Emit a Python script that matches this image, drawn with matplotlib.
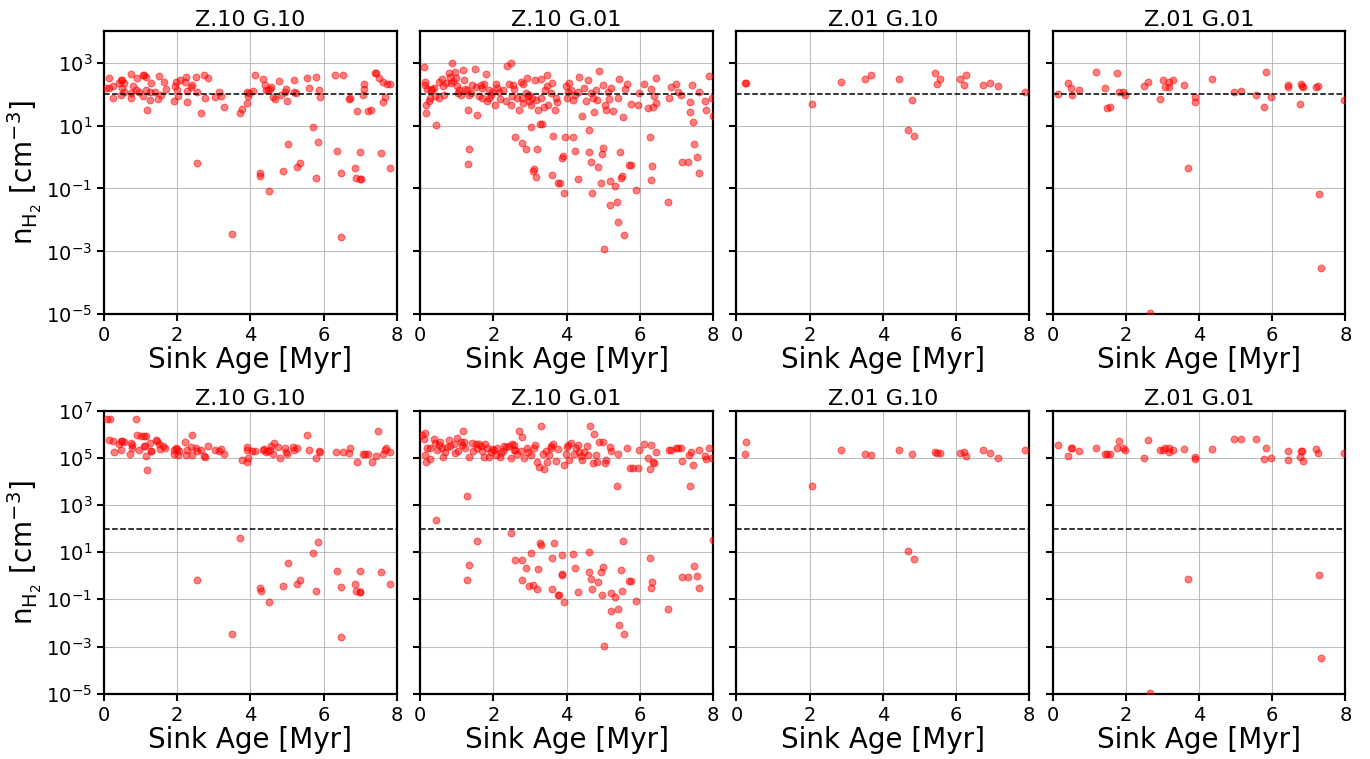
import matplotlib
matplotlib.use('Agg')
import matplotlib.pyplot as plt
from matplotlib.ticker import FixedLocator, NullLocator, LogFormatterMathtext

titles = ["Z.10 G.10", "Z.10 G.01", "Z.01 G.10", "Z.01 G.01"]

# ---- Z.10 G.10, top row ----
age_a_top = [0.05, 0.14, 0.14, 0.23, 0.25, 0.41, 0.46, 0.5, 0.55, 0.5, 0.46, 0.53, 0.73, 0.78,
             0.73, 0.73, 0.9, 0.87, 0.96, 1.05, 1.1, 1.14, 1.07, 1.14, 1.17, 1.28, 1.26, 1.25,
             1.4, 1.5, 1.46, 1.55, 1.64, 1.69, 1.92, 1.93, 1.96, 2.0, 2.03, 2.08, 2.24, 2.22,
             2.26, 2.26, 2.39, 2.37, 2.51, 2.54, 2.65, 2.54, 2.74, 2.83, 2.75, 3.03, 3.15, 3.19,
             3.27, 3.49, 3.7, 3.76, 3.9, 3.9, 3.92, 3.97, 4.06, 4.12, 4.33, 4.27, 4.27, 4.4,
             4.43, 4.47, 4.52, 4.56, 4.5, 4.61, 4.67, 4.79, 4.84, 4.9, 4.93, 4.97, 5.0, 5.02,
             5.18, 5.2, 5.25, 5.26, 5.35, 5.55, 5.6, 5.72, 5.78, 5.8, 5.84, 5.86, 5.9, 6.32,
             6.37, 6.46, 6.48, 6.52, 6.69, 6.73, 6.92, 6.86, 6.89, 6.98, 6.98, 7.03, 7.07, 7.1,
             7.1, 7.21, 7.3, 7.41, 7.44, 7.5, 7.57, 7.62, 7.63, 7.68, 7.74, 7.8, 7.8]
n_a_top = [155, 155, 320, 180, 75, 220, 280, 270, 220, 155, 90, 120, 440, 180,
           108, 75, 320, 137, 120, 390, 390, 360, 88, 137, 30, 220, 112, 63,
           112, 380, 68, 95, 250, 144, 62, 180, 233, 137, 85, 283, 360, 233,
           127, 55, 197, 166, 360, 120, 25, 0.66, 390, 320, 75, 80, 120, 88,
           40, 0.0035, 25, 34, 120, 52, 85, 108, 127, 390, 305, 0.32, 0.24, 197,
           137, 137, 144, 166, 0.08, 78, 71, 263, 95, 0.36, 120, 144, 62, 2.5,
           112, 270, 108, 0.48, 0.66, 335, 155, 8.9, 345, 0.22, 3.0, 130, 78, 400,
           1.5, 0.0028, 0.32, 390, 69, 75, 28, 0.46, 0.22, 1.4, 0.2, 0.2, 95, 144,
           210, 28, 30, 480, 460, 320, 1.3, 233, 55, 78, 210, 210, 0.46]

# ---- Z.10 G.10, bottom row ----
age_a_bot = [0.07, 0.16, 0.87, 0.14, 0.23, 0.26, 0.41, 0.46, 0.5, 0.55, 0.46, 0.73, 0.75, 0.76,
             0.71, 0.89, 1.0, 1.1, 1.14, 0.96, 1.08, 1.11, 1.14, 1.17, 1.26, 1.27, 1.29, 1.41,
             1.44, 1.5, 1.53, 1.62, 1.67, 1.9, 1.92, 1.96, 2.0, 2.05, 2.03, 2.22, 2.24, 2.26,
             2.37, 2.39, 2.4, 2.51, 2.55, 2.65, 2.74, 2.76, 2.85, 3.03, 3.15, 3.19, 3.27, 2.54,
             3.49, 3.7, 3.76, 3.9, 3.9, 3.91, 3.92, 4.03, 4.12, 4.27, 4.28, 4.33, 4.38, 4.42,
             4.47, 4.52, 4.56, 4.61, 4.65, 4.5, 4.76, 4.82, 4.9, 4.93, 4.97, 5.0, 5.02, 5.16,
             5.18, 5.27, 5.26, 5.35, 5.55, 5.6, 5.72, 5.78, 5.8, 5.84, 5.86, 5.91, 6.34, 6.37,
             6.46, 6.48, 6.52, 6.68, 6.73, 6.86, 6.89, 6.98, 7.0, 6.92, 6.98, 7.07, 7.12, 7.21,
             7.32, 7.42, 7.48, 7.57, 7.62, 7.67, 7.71, 7.8, 7.8]
n_a_bot = [4.4e6, 4.4e6, 4.4e6, 5.6e5, 5.2e5, 1.7e5, 4e5, 5e5, 5.2e5, 4.7e5, 2.1e5, 4.3e5, 3.4e5, 2.6e5,
           1.5e5, 9e5, 8.5e5, 8.5e5, 8.5e5, 2.1e5, 3.1e5, 3.2e5, 1.2e5, 3.1e4, 4.3e5, 1.9e5, 1.9e5, 5.5e5,
           5.2e5, 3.7e5, 2.3e5, 3.2e5, 2.5e5, 1.4e5, 2.1e5, 2.6e5, 2.3e5, 1.9e5, 1.3e5, 4.8e5, 1.3e5, 2.1e5,
           2.9e5, 9.6e5, 1.3e5, 2.6e5, 1.9e5, 2.1e5, 1.2e5, 1.03e5, 3.2e5, 2.2e5, 1.9e5, 2.3e5, 1.4e5, 0.66,
           0.0033, 38, 8e4, 2.9e5, 2.1e5, 6.3e4, 1e5, 1.9e5, 1.9e5, 0.31, 0.23, 2.1e5, 2.3e5, 1.7e5,
           1.9e5, 2.1e5, 3.2e5, 1.4e5, 4.2e5, 0.08, 2.9e5, 1e5, 0.36, 2.5e5, 1.8e5, 1.5e5, 3.5, 2.9e5,
           2.1e5, 2.5e5, 0.45, 0.66, 9e5, 2.1e5, 9.6, 1e5, 0.22, 28, 1.9e5, 1.7e5, 1.8e5, 1.6,
           0.0025, 0.32, 1.8e5, 1.6e5, 2.6e5, 0.45, 0.22, 0.2, 0.2, 6.8e4, 1.6, 1.4e5, 1.4e5, 1.5e5,
           6.8e4, 1.2e5, 1.3e6, 1.5, 1.5e5, 2.1e5, 2.6e5, 1.8e5, 0.45]

# ---- Z.10 G.01, top row ----
age_b_top = [0.09, 0.12, 0.14, 0.18, 0.16, 0.16, 0.27, 0.23, 0.32, 0.37, 0.41, 0.43,
             0.5, 0.52, 0.59, 0.64, 0.69, 0.78, 0.8, 0.87, 0.85, 0.96, 0.98, 1.0, 1.03, 1.05,
             1.16, 1.19, 1.23, 1.28, 1.3, 1.34, 1.3, 1.33, 1.42, 1.49, 1.53, 1.55, 1.6, 1.65,
             1.69, 1.74, 1.8, 1.83, 1.87, 1.89, 1.92, 1.97,
             2.06, 2.04, 2.1, 2.19, 2.26, 2.38, 2.47, 2.42, 2.47, 2.51, 2.53, 2.56, 2.6, 2.65,
             2.69, 2.74, 2.77, 2.79, 2.81, 2.81, 2.9, 2.92, 2.94, 2.97,
             2.97, 3.02, 3.02, 3.06, 3.08, 3.1, 3.13, 3.17, 3.2, 3.23, 3.26, 3.29, 3.31, 3.34,
             3.38, 3.45, 3.47, 3.5, 3.56, 3.61, 3.63, 3.61, 3.68, 3.7, 3.77, 3.81, 3.88, 3.9,
             3.93, 3.96, 3.98, 4.0,
             4.07, 4.11, 4.16, 4.16, 4.23, 4.3, 4.31, 4.34, 4.43, 4.48, 4.57, 4.6, 4.6, 4.66,
             4.69, 4.71, 4.75, 4.8, 4.84, 4.87, 4.89, 4.94, 4.96, 4.98, 5.0, 5.03, 5.05, 5.07,
             5.12, 5.18, 5.19, 5.2, 5.27, 5.32, 5.38, 5.39, 5.41, 5.42, 5.46, 5.48, 5.51, 5.55,
             5.57, 5.64, 5.71, 5.76, 5.76, 5.9, 5.94, 5.99,
             6.12, 6.21, 6.28, 6.31, 6.33, 6.31, 6.35, 6.4, 6.45, 6.45, 6.77, 6.81, 6.86, 7.0,
             7.04, 7.13, 7.15, 7.31, 7.36, 7.38, 7.43, 7.45, 7.47, 7.56, 7.61, 7.63, 7.77, 7.8,
             7.89, 7.98, 8.0,
             0.3, 0.62, 0.9, 1.12, 1.38, 1.7, 2.15, 2.33, 2.88, 3.15, 3.42, 3.74, 4.05, 4.22,
             4.52, 4.66, 5.15, 5.6]
n_b_top = [700, 250, 200, 145, 46, 25, 75, 59, 145, 155, 85, 10.3,
           250, 75, 300, 95, 220, 460, 360, 950, 220, 520, 335, 175, 107, 137,
           590, 280, 145, 137, 30, 1.8, 0.6, 95, 200, 615, 166, 22, 85, 200,
           75, 210, 440, 59, 75, 137, 95, 120,
           210, 46, 155, 70, 137, 785, 950, 210, 46, 85, 200, 145, 4.3, 75,
           32, 250, 2.8, 75, 210, 52, 1.8, 320, 85, 59,
           95, 8.9, 46, 75, 0.36, 0.4, 270, 0.23, 1.75, 32, 11, 75, 300, 11,
           40, 400, 175, 46, 108, 222, 4.8, 0.26, 32, 75, 0.15, 0.15, 0.95, 1.05,
           0.07, 4.4, 175, 75,
           222, 130, 4.4, 66, 1.5, 120, 0.2, 360, 20, 155, 280, 7.1, 1.4, 0.7,
           0.07, 75, 26, 137, 63, 0.48, 560, 0.15, 1.2, 200, 1.9, 0.0012, 46, 32,
           120, 0.17, 0.03, 155, 28, 0.12, 0.037, 75, 0.0086, 300, 1.4, 0.22, 0.24, 18,
           0.0034, 210, 0.55, 0.55, 50, 0.09, 46, 108,
           210, 36, 4.4, 145, 0.5, 0.19, 40, 85, 320, 52, 0.037, 75, 166, 210,
           120, 95, 0.7, 0.7, 55, 26, 200, 13, 2.5, 1.0, 112, 0.3, 59, 30,
           380, 75, 20,
           130, 180, 260, 90, 110, 160, 120, 60, 110, 65, 130, 55, 120, 90,
           60, 110, 70, 150]

# ---- Z.10 G.01, bottom row ----
age_b_bot = [0.06, 0.14, 0.09, 0.12, 0.16, 0.18, 0.27, 0.27, 0.37, 0.41, 0.43, 0.46, 0.55, 0.59,
             0.61, 0.67, 0.78, 0.82, 0.91, 1.0, 1.03, 1.14, 1.17, 1.19, 1.23, 1.28, 1.28, 1.34,
             1.34, 1.4, 1.51, 1.55, 1.55, 1.65, 1.69, 1.74, 1.78, 1.83, 1.87, 1.92, 2.01, 2.06,
             2.1, 2.19, 2.26, 2.35, 2.42, 2.47, 2.49, 2.51, 2.56, 2.6, 2.6, 2.65, 2.71, 2.74,
             2.77, 2.79, 2.79, 2.83, 2.88, 2.91, 2.97, 3.02, 3.02, 3.08, 3.1, 3.13, 3.18, 3.2,
             3.22, 3.24, 3.27, 3.31, 3.31, 3.38, 3.43, 3.47, 3.52, 3.56, 3.61, 3.61, 3.63, 3.66,
             3.7, 3.77, 3.79, 3.87, 3.88, 3.88, 3.93, 3.93, 3.98, 4.0, 4.07, 4.11, 4.16, 4.2,
             4.23, 4.3, 4.31, 4.34, 4.43, 4.48, 4.57, 4.6, 4.6, 4.64, 4.66, 4.69, 4.73, 4.75,
             4.8, 4.84, 4.86, 4.89, 4.94, 4.96, 4.98, 5.0, 5.03, 5.05, 5.07, 5.19, 5.2, 5.21,
             5.21, 5.32, 5.37, 5.39, 5.41, 5.42, 5.48, 5.51, 5.55, 5.57, 5.64, 5.71, 5.76, 5.73,
             5.8, 5.9, 5.94, 5.99, 6.12, 6.21, 6.28, 6.28, 6.31, 6.31, 6.33, 6.37, 6.4, 6.45,
             6.77, 6.81, 6.86, 7.0, 7.04, 7.13, 7.15, 7.16, 7.31, 7.34, 7.36, 7.4, 7.45, 7.47,
             7.56, 7.61, 7.61, 7.77, 7.8, 7.89, 7.98, 8.0,
             0.5, 0.72, 0.95, 1.1, 1.45, 1.6, 1.95, 2.2, 2.3, 2.55, 2.95, 3.35, 3.58, 3.75,
             4.05, 4.25, 4.4, 4.55]
n_b_bot = [9e5, 1.07e6, 6.2e5, 1.3e5, 6.4e4, 2.6e5, 8.5e4, 2.5e5, 6.5e5, 4.3e5, 235, 2.1e5, 4.7e5, 2.6e5,
           1.03e5, 1.8e5, 5.5e5, 3.2e5, 3.7e5, 7e5, 1.9e5, 3.4e5, 1.35e6, 4.7e5, 2.6e5, 2.5e3, 0.68, 1.03e5,
           2.8, 4.4e5, 3.7e5, 30, 2.5e5, 3.2e5, 1.9e5, 1.1e5, 3.7e5, 2.6e5, 1.1e5, 1.8e5, 2.1e5, 1.3e5,
           2.5e5, 1.1e5, 1.9e5, 2.9e5, 3.2e5, 1e5, 62, 4e5, 3.4e5, 4.8, 2.1e5, 1.5e5, 1.35e6, 1.9e5,
           4.8, 7.7e5, 0.63, 1e5, 2.1, 2.6e5, 0.37, 9.3, 1.3e5, 0.41, 2.6e5, 3.4e5, 0.27, 6.8e4,
           1.9, 4.2e4, 24, 21, 2.2e6, 3.3e4, 1.9e5, 6.8e4, 1.3e5, 2.6e5, 0.28, 5.8, 4e5, 24,
           7.2e4, 0.16, 0.16, 1.1, 1.15, 7.7, 0.075, 4.9e4, 1.4e5, 2.9e5, 8e4, 4.3e5, 8.5, 1.5e5,
           2.1, 3.4e5, 0.2, 1.8e5, 8e4, 1.8e5, 1.3e5, 10, 1.5, 2.2e6, 0.75, 0.28, 5.8e4, 9.7e5,
           1.3e5, 6.8e4, 0.52, 4.5e5, 1.5, 0.16, 4.5e5, 2.4, 0.0011, 5.8e4, 8e4, 2.9e5, 0.18, 1.9e5,
           0.033, 0.13, 6.3e3, 0.038, 1.5e5, 0.0085, 1.7, 0.22, 30, 0.0034, 2.5e5, 0.6, 0.6, 3.8e4,
           3.8e4, 0.087, 3.8e4, 2.1e5, 3.7e5, 9.4e4, 3.5e4, 5.6, 3.4e5, 0.3, 0.52, 6.8e4, 5.8e4, 1.7e5,
           0.038, 2.1e5, 2.1e5, 2.6e5, 2.6e5, 2.5e5, 0.86, 7.2e4, 0.86, 1.3e5, 6.3e3, 1.8e5, 4.9e4, 2.6,
           0.96, 2.1e5, 0.3, 1.2e5, 8.5e4, 2.6e5, 9.4e4, 33,
           3.5e5, 2.8e5, 1.6e5, 4.5e5, 2e5, 3.9e5, 2.4e5, 1.6e5, 3.1e5, 2.2e5, 1.7e5, 1.4e5, 3e5, 2.3e5,
           3.6e5, 2.5e5, 1.2e5, 3.3e5]

# ---- Z.01 G.10 (same sinks in both rows) ----
age_c = [0.23, 0.26, 2.07, 2.86, 3.51, 3.68, 4.45, 4.7, 4.81, 4.85,
         5.43, 5.49, 5.57, 6.11, 6.22, 6.28, 6.75, 6.93, 7.16, 7.89]
n_c_top = [222, 222, 48, 240, 305, 390, 290, 7.1, 65, 4.5,
           450, 212, 305, 305, 192, 410, 200, 222, 183, 112]
n_c_bot = [1.5e5, 4.7e5, 6.2e3, 2.1e5, 1.5e5, 1.25e5, 2.1e5, 11.5, 1.5e5, 5.0,
           1.8e5, 1.6e5, 1.6e5, 1.6e5, 1.7e5, 1.2e5, 2.1e5, 1.6e5, 1e5, 2.1e5]

# ---- Z.01 G.01 (same sinks in both rows) ----
age_d = [0.16, 0.41, 0.5, 0.53, 0.73, 1.19, 1.43, 1.48, 1.57, 1.76, 1.81, 1.93, 1.99,
         2.49, 2.62, 2.65, 2.94, 3.01, 3.06, 3.17, 3.18, 3.3, 3.6, 3.7, 3.9, 3.9,
         4.36, 4.97, 5.14, 5.57, 5.77, 5.84, 5.98, 6.43, 6.43, 6.8, 6.82, 6.75, 6.84,
         7.2, 7.26, 7.28, 7.34, 7.96]
n_d_top = [100, 222, 155, 95, 137, 510, 158, 36, 38, 460, 113, 113, 93,
           183, 240, 1.1e-5, 69, 283, 166, 166, 250, 283, 188, 0.46, 80, 56,
           305, 113, 124, 95, 38, 510, 78, 188, 163, 212, 180, 50, 166,
           166, 183, 0.068, 0.0003, 66]
n_d_bot = [3.4e5, 1.2e5, 2.6e5, 2.6e5, 2e5, 2.6e5, 1.5e5, 1.5e5, 1.5e5, 2.6e5, 5.2e5, 2.7e5, 2.2e5,
           1e5, 5.6e5, 1.1e-5, 2.2e5, 2.2e5, 2.5e5, 2.5e5, 1.8e5, 2.1e5, 2.3e5, 0.7, 1.1e5, 8.8e4,
           2.3e5, 6e5, 6e5, 6e5, 8.8e4, 2.6e5, 1e5, 1.9e5, 8e4, 2e5, 2e5, 1.1e5, 7.5e4,
           2.4e5, 1.6e5, 1.1, 3.2e-4, 1.6e5]

n_crit = 100
yticks_top = [1e-5, 1e-3, 1e-1, 1e1, 1e3]
yticks_bot = [1e-5, 1e-3, 1e-1, 1e1, 1e3, 1e5, 1e7]

top_data = [(age_a_top, n_a_top), (age_b_top, n_b_top), (age_c, n_c_top), (age_d, n_d_top)]
bot_data = [(age_a_bot, n_a_bot), (age_b_bot, n_b_bot), (age_c, n_c_bot), (age_d, n_d_bot)]

fig, axes = plt.subplots(2, 4, figsize=(13.7, 7.59), dpi=100)
fig.subplots_adjust(left=0.076, right=0.982, top=0.959, bottom=0.086, wspace=0.08, hspace=0.34)

rows = [(0, top_data, (1e-5, 1e4), yticks_top), (1, bot_data, (1e-5, 1e7), yticks_bot)]
for row, data, ylim, yticks in rows:
    for col in range(4):
        ax = axes[row, col]
        x, y = data[col]
        ax.scatter(x, y, c='r', s=24, alpha=0.5, linewidths=0.8, zorder=3)
        ax.axhline(n_crit, color='k', ls='--', lw=1.1, zorder=4)
        ax.set_yscale('log')
        ax.set_xlim(0, 8)
        ax.set_ylim(*ylim)
        ax.set_xticks([0, 2, 4, 6, 8])
        ax.yaxis.set_major_locator(FixedLocator(yticks))
        ax.yaxis.set_major_formatter(LogFormatterMathtext(base=10.0))
        ax.yaxis.set_minor_locator(NullLocator())
        ax.grid(True, color='#b0b0b0', lw=0.8, alpha=0.8)
        ax.set_axisbelow(True)
        ax.tick_params(labelsize=14, width=1.5, length=5)
        for sp in ax.spines.values():
            sp.set_linewidth(1.6)
        ax.set_title(titles[col], fontsize=16, pad=4)
        ax.set_xlabel('Sink Age [Myr]', fontsize=20, labelpad=1)
        if col == 0:
            ax.set_ylabel(r'$\mathrm{n_{H_2}}$ [cm$^{-3}$]', fontsize=20, labelpad=2)
        else:
            ax.tick_params(labelleft=False)

fig.savefig('out.png', dpi=100, facecolor='white')
